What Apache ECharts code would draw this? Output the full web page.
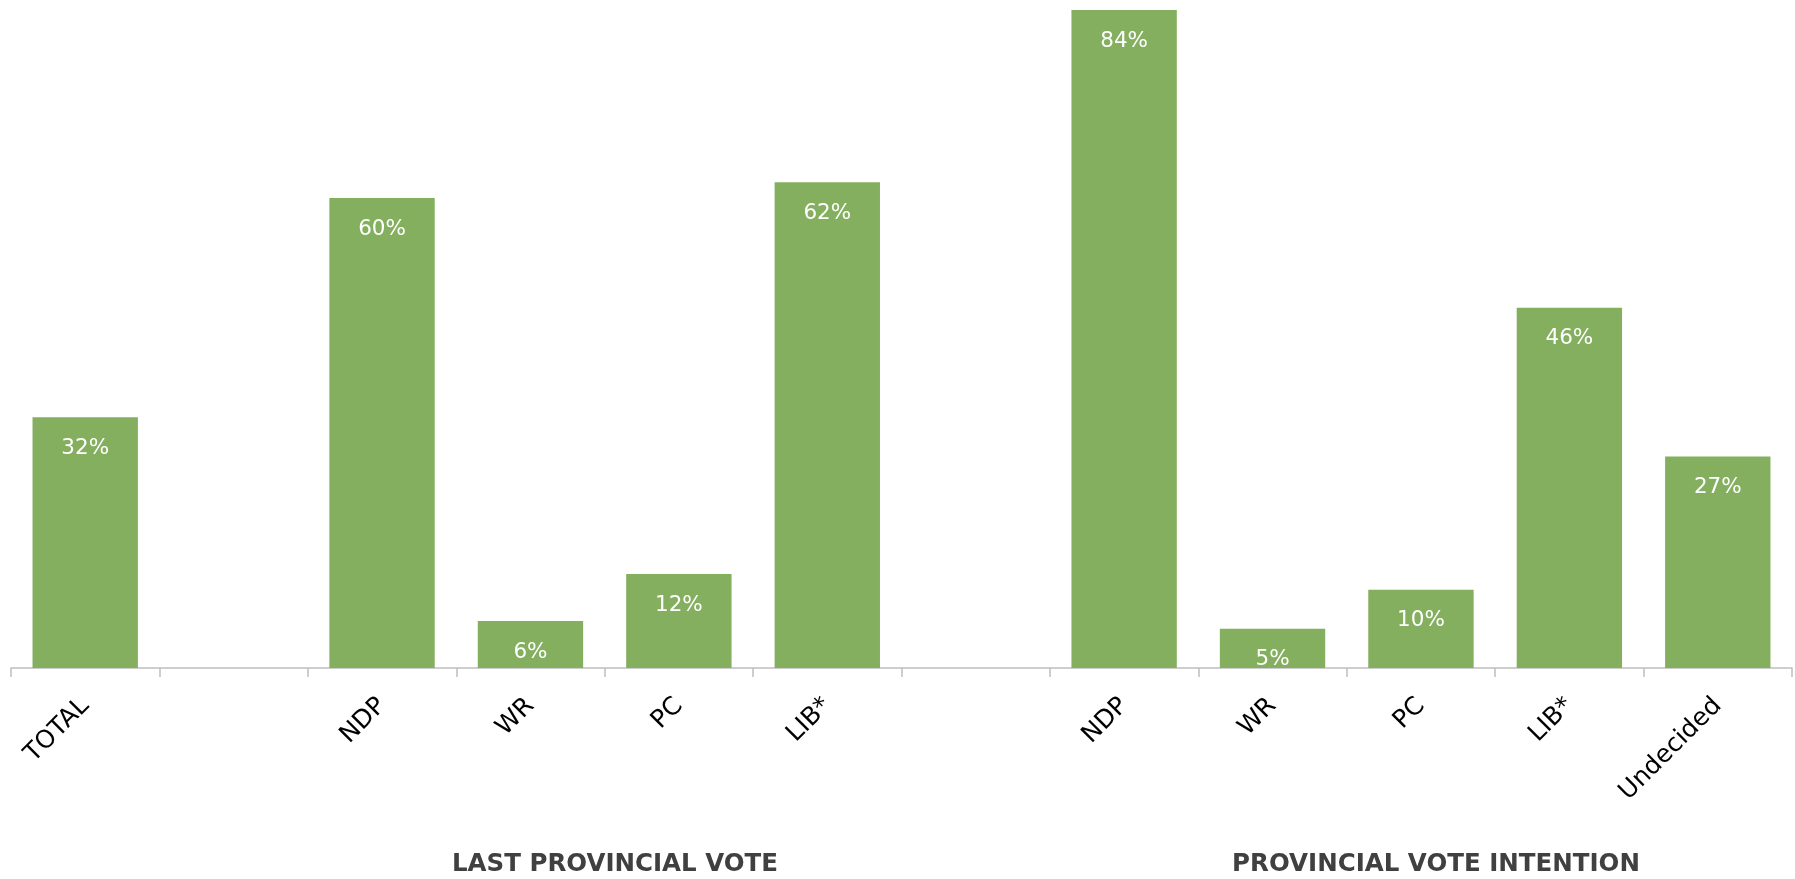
<!DOCTYPE html>
<html>
<head>
<meta charset="utf-8">
<title>Provincial vote</title>
<script src="https://cdn.jsdelivr.net/npm/echarts@6/dist/echarts.min.js"></script>
<style>
  html, body { margin: 0; padding: 0; background: #ffffff; }
  #chart { width: 1795px; height: 879px; }
</style>
</head>
<body>
<div id="chart"></div>
<script>
// Party groups: last provincial vote, then provincial vote intention.
// Empty categories act as spacers between the groups.
const categories = ['TOTAL', '', 'NDP', 'WR', 'PC', 'LIB*', '', 'NDP', 'WR', 'PC', 'LIB*', 'Undecided'];
const shares = [32, null, 60, 6, 12, 62, null, 84, 5, 10, 46, 27];
const groupTitles = ['LAST PROVINCIAL VOTE', 'PROVINCIAL VOTE INTENTION'];

const chart = echarts.init(document.getElementById('chart'), null, { renderer: 'canvas' });

chart.setOption({
  animation: false,
  backgroundColor: '#ffffff',
  grid: { left: 11, right: 3, top: 10, bottom: 211, containLabel: false },
  xAxis: {
    type: 'category',
    data: categories,
    boundaryGap: true,
    axisLine: { show: true, lineStyle: { color: '#bfbfbf', width: 1.5 } },
    axisTick: { show: true, length: 9, alignWithLabel: false, lineStyle: { color: '#bfbfbf', width: 1.5 } },
    axisLabel: {
      interval: 0,
      rotate: 45,
      margin: 34,
      color: '#000000',
      fontFamily: 'DejaVu Sans',
      fontSize: 25
    }
  },
  yAxis: {
    type: 'value',
    min: 0,
    max: 84,
    show: false,
    splitLine: { show: false }
  },
  series: [{
    type: 'bar',
    data: shares,
    barCategoryGap: '29%',
    itemStyle: { color: '#84af5f' },
    label: {
      show: true,
      position: 'insideTop',
      distance: 20,
      color: '#ffffff',
      fontFamily: 'DejaVu Sans',
      fontSize: 21.5,
      formatter: p => p.value + '%'
    }
  }],
  graphic: [
    {
      type: 'text',
      x: 615, y: 865,
      style: {
        text: groupTitles[0],
        fill: '#404040',
        font: 'bold 24.5px "DejaVu Sans"',
        textAlign: 'center',
        textVerticalAlign: 'middle'
      }
    },
    {
      type: 'text',
      x: 1436, y: 865,
      style: {
        text: groupTitles[1],
        fill: '#404040',
        font: 'bold 24.5px "DejaVu Sans"',
        textAlign: 'center',
        textVerticalAlign: 'middle'
      }
    }
  ]
});
</script>
</body>
</html>
